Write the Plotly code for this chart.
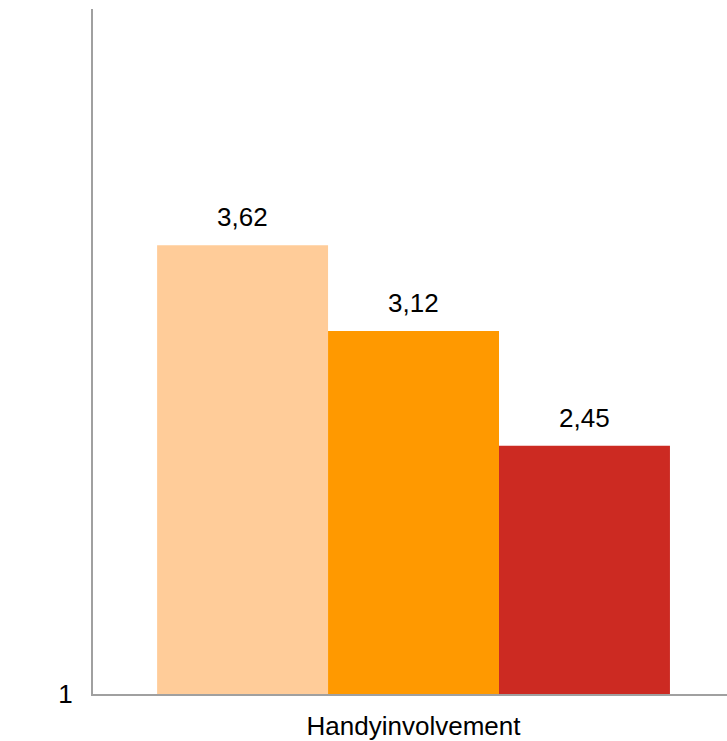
import plotly.graph_objects as go

# Chart data
categories = ["Handyinvolvement"]
series_names = ["Gruppe 1", "Gruppe 2", "Gruppe 3"]
series_values = [3.62, 3.12, 2.45]
series_colors = ["#FFCC99", "#FF9900", "#CC2A22"]
y_ticks = [1]

FONT = "Liberation Sans, Arial, sans-serif"
FS = 26

fig = go.Figure()
for name, val, col in zip(series_names, series_values, series_colors):
    fig.add_trace(go.Bar(
        x=categories, y=[val], name=name,
        marker=dict(color=col, line=dict(width=0)),
        hoverinfo="y",
    ))

# Value labels above each bar, decimal comma
for i, val in enumerate(series_values):
    fig.add_annotation(
        x=categories[0], y=val, xref="x", yref="y",
        text=f"{val:.2f}".replace(".", ","),
        showarrow=False, yanchor="bottom", yshift=11,
        xshift=(i - 1) * 171,
        font=dict(family=FONT, size=FS, color="#000000"),
    )

fig.update_layout(
    width=727, height=741,
    margin=dict(l=93, r=0, t=9, b=47),
    paper_bgcolor="white", plot_bgcolor="white",
    barmode="group", bargap=0.2, bargroupgap=0,
    showlegend=False,
    font=dict(family=FONT, size=FS, color="#000000"),
)
fig.update_xaxes(
    type="category", range=[-0.5, 0.489],
    showline=True, linecolor="#A0A0A0", linewidth=2,
    showgrid=False, ticks="", zeroline=False,
    tickfont=dict(family=FONT, size=FS, color="#000000"),
    ticklabelstandoff=8,
)
fig.update_yaxes(
    range=[1, 5], tickvals=y_ticks, ticktext=[str(t) for t in y_ticks],
    showline=True, linecolor="#A0A0A0", linewidth=2,
    showgrid=False, ticks="", zeroline=False,
    tickfont=dict(family=FONT, size=FS, color="#000000"),
    ticklabelstandoff=13,
)

fig.write_html("out.html")
